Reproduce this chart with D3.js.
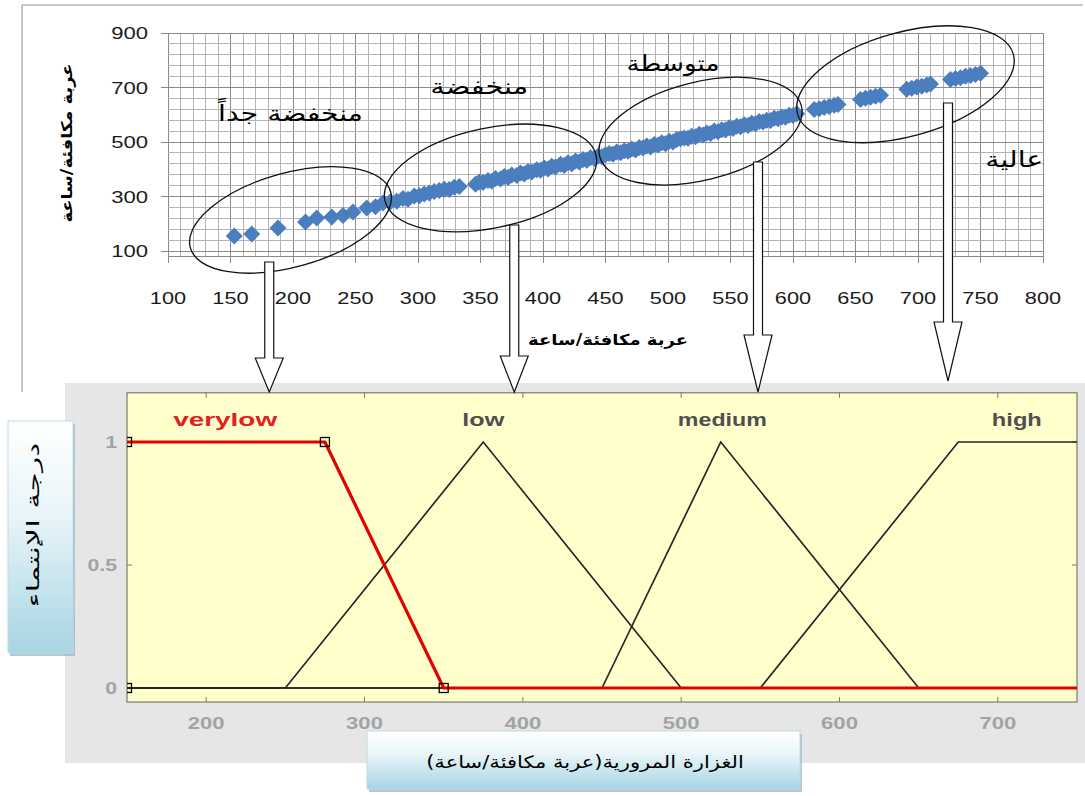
<!DOCTYPE html>
<html>
<head>
<meta charset="utf-8">
<script src="https://cdn.jsdelivr.net/npm/d3@7"></script>
<style>
  body { margin: 0; background: #fff; }
  svg { display: block; }
</style>
</head>
<body>
<svg id="chart" width="1085" height="796"></svg>
<script>
// ---- Observed flows (equivalent vehicles / hour) ----
const flowX = [
  153, 167, 188,
  210, 219, 231, 240, 248, 259, 266, 272, 278, 283, 288, 292, 297, 301, 305, 309, 313, 317, 321, 325, 329, 333,
  346, 349, 352, 356, 359, 362, 366, 369, 372, 375, 379, 382, 385, 388, 391, 395, 398, 401, 404, 407, 410, 414,
  417, 420, 423, 426, 429, 432, 435, 438, 441, 444, 447,
  450, 453, 456, 459, 462, 465, 468, 471, 474, 477, 480, 483, 486, 489, 492, 495, 498, 501, 504, 507, 510, 513,
  516, 519, 522, 525, 528, 531, 534, 537, 540, 543, 546, 549, 552, 555, 558, 561, 564, 567, 570, 573, 576, 579,
  582, 585, 588, 591, 594, 597, 600, 603,
  617, 621, 625, 629, 633, 636,
  654, 658, 662, 666, 670,
  691, 695, 699, 703, 707, 710,
  726, 730, 734, 738, 742, 746, 750
];
const flowY = [
  155, 162, 184,
  206, 221, 225, 230, 243, 258, 262, 276, 281, 283, 293, 290, 302, 303, 309, 313, 318, 322, 327, 326, 334, 337,
  345, 353, 351, 359, 356, 366, 364, 373, 370, 379, 377, 386, 383, 392, 390, 398, 396, 405, 401, 411, 408, 418,
  414, 424, 420, 430, 427, 436, 433, 442, 439, 448, 446,
  453, 458, 455, 463, 461, 468, 466, 474, 471, 480, 478, 485, 482, 491, 489, 497, 494, 503, 500, 509, 512, 515,
  514, 521, 519, 528, 526, 533, 531, 540, 538, 545, 544, 552, 550, 558, 556, 563, 561, 569, 567, 575, 573, 580,
  579, 587, 585, 592, 591, 598, 597, 604,
  619, 622, 627, 630, 635, 638,
  656, 661, 664, 668, 672,
  694, 697, 702, 705, 709, 713,
  729, 733, 736, 741, 744, 748, 752
];
const scatterXTicks = [100, 150, 200, 250, 300, 350, 400, 450, 500, 550, 600, 650, 700, 750, 800];
const scatterYTicks = [100, 300, 500, 700, 900];

// Region rings drawn around the point cloud (centre in data units)
const ringCx = [198, 358, 526, 690];
const ringCy = [214, 368, 540, 712];
const ringNames = ["منخفضة جداً", "منخفضة", "متوسطة", "عالية"];
const ringLabelX = [198, 349, 504, 777];
const ringLabelY = [577, 676, 760, 408];

// ---- Membership functions of the traffic flow variable ----
const verylowParams = [150, 150, 275, 350];   // trapezoid
const lowParams     = [250, 375, 375, 500];   // triangle
const mediumParams  = [450, 525, 525, 650];   // triangle
const highParams    = [550, 675, 750, 750];   // trapezoid
const mfNames  = ["verylow", "low", "medium", "high"];
const mfLabelX = [212, 375, 526, 712];
const mfXTicks = [200, 300, 400, 500, 600, 700];
const mfYTicks = [0, 0.5, 1];

const svg = d3.select("#chart");
const defs = svg.append("defs");

const ARABIC = "'DejaVu Sans', sans-serif";

// Places a text centred on (cx, cy) and stretches it horizontally to a given width
function fitText(parent, str, cx, cy, width, o = {}) {
  const t = parent.append("text")
    .attr("text-anchor", "middle")
    .attr("font-family", o.family || ARABIC)
    .attr("font-size", o.size || 16)
    .attr("font-weight", o.weight || "normal")
    .attr("fill", o.fill || "#000")
    .attr("direction", o.rtl ? "rtl" : "ltr")
    .text(str);
  const len = t.node().getComputedTextLength();
  const sx = len > 0 ? width / len : 1;
  t.attr("transform", `translate(${cx},${cy}) rotate(${o.rotate || 0}) scale(${sx},1)`);
  return t;
}

/* ================= Upper panel: scatter of flows ================= */
const xS = d3.scaleLinear().domain([100, 800]).range([168, 1043]);
const yS = d3.scaleLinear().domain([100, 900]).range([251, 33]);
const yFloor = 78;

// outer frame (left and top edges)
svg.append("path")
  .attr("d", "M22,392 V5 H1083")
  .attr("fill", "none").attr("stroke", "#8f8f8f").attr("stroke-width", 1);

const grid = svg.append("g");
grid.selectAll("line.v").data(d3.range(100, 801, 10)).join("line")
  .attr("x1", d => xS(d)).attr("x2", d => xS(d))
  .attr("y1", yS(900)).attr("y2", yS(yFloor))
  .attr("stroke", d => d % 50 === 0 ? "#8a8a8a" : "#b4b4b4")
  .attr("stroke-width", 1).attr("shape-rendering", "crispEdges");
grid.selectAll("line.h").data(d3.range(100, 901, 40).concat([yFloor])).join("line")
  .attr("x1", xS(100)).attr("x2", xS(800))
  .attr("y1", d => yS(d)).attr("y2", d => yS(d))
  .attr("stroke", d => (d - 100) % 200 === 0 || d === yFloor ? "#8a8a8a" : "#b4b4b4")
  .attr("stroke-width", 1).attr("shape-rendering", "crispEdges");

// axis ticks
grid.selectAll("line.xt").data(scatterXTicks).join("line")
  .attr("x1", d => xS(d)).attr("x2", d => xS(d))
  .attr("y1", yS(yFloor)).attr("y2", yS(yFloor) + 6)
  .attr("stroke", "#8a8a8a").attr("shape-rendering", "crispEdges");
grid.selectAll("line.yt").data(scatterYTicks).join("line")
  .attr("x1", xS(100) - 7).attr("x2", xS(100))
  .attr("y1", d => yS(d)).attr("y2", d => yS(d))
  .attr("stroke", "#8a8a8a").attr("shape-rendering", "crispEdges");

// tick labels
const tickFont = "'Liberation Sans', Arial, sans-serif";
svg.append("g").selectAll("text").data(scatterXTicks).join("text")
  .attr("transform", d => `translate(${xS(d)},${yS(yFloor) + 47}) scale(1.28,1)`)
  .attr("text-anchor", "middle").attr("font-family", tickFont).attr("font-size", 17)
  .attr("fill", "#1a1a1a").text(d => d);
svg.append("g").selectAll("text").data(scatterYTicks).join("text")
  .attr("transform", d => `translate(${xS(100) - 20},${yS(d) + 6}) scale(1.3,1)`)
  .attr("text-anchor", "end").attr("font-family", tickFont).attr("font-size", 17)
  .attr("fill", "#1a1a1a").text(d => d);

// points
const diamond = "M0,-8.5L8.5,0L0,8.5L-8.5,0Z";
svg.append("g").selectAll("path").data(flowX).join("path")
  .attr("d", diamond)
  .attr("transform", (d, i) => `translate(${xS(d)},${yS(flowY[i])})`)
  .attr("fill", "#4a7ebf");

// axis titles
fitText(svg, "عربة مكافئة/ساعة", 72, 143, 159, { rotate: -90, weight: "bold", size: 15, rtl: true });
fitText(svg, "عربة مكافئة/ساعة", 608, 345, 160, { weight: "bold", size: 15, rtl: true });

// region rings
const ringRx = [104, 108, 104, 112];
const ringRy = [47, 50, 49, 52];
const ringAngle = [-15.6, -12, -14, -15.5];
svg.append("g").selectAll("ellipse").data(ringCx).join("ellipse")
  .attr("transform", (d, i) => `translate(${xS(d)},${yS(ringCy[i])}) rotate(${ringAngle[i]})`)
  .attr("rx", (d, i) => ringRx[i]).attr("ry", (d, i) => ringRy[i])
  .attr("fill", "none").attr("stroke", "#111").attr("stroke-width", 1.3);

// region names
const ringLabelW = [145, 98, 93, 58];
ringNames.forEach((n, i) => {
  fitText(svg, n, xS(ringLabelX[i]), yS(ringLabelY[i]), ringLabelW[i], { size: 22, rtl: true });
});

/* ================= Lower panel: membership functions ================= */
svg.append("rect").attr("x", 65).attr("y", 383).attr("width", 1020).attr("height", 380).attr("fill", "#e6e6e6");

const xM = d3.scaleLinear().domain([150, 750]).range([127, 1077]);
const yM = d3.scaleLinear().domain([0, 1]).range([688, 442]);
const frameTop = 1.2, frameBottom = -0.057;

svg.append("rect")
  .attr("x", xM(150)).attr("y", yM(frameTop))
  .attr("width", xM(750) - xM(150)).attr("height", yM(frameBottom) - yM(frameTop))
  .attr("fill", "#ffffcc").attr("stroke", "#7b7b6c").attr("stroke-width", 1.2);

defs.append("clipPath").attr("id", "plotClip").append("rect")
  .attr("x", xM(150)).attr("y", yM(frameTop))
  .attr("width", xM(750) - xM(150)).attr("height", yM(frameBottom) - yM(frameTop));

// inward ticks
const tk = svg.append("g").attr("stroke", "#7b7b6c").attr("stroke-width", 1);
mfXTicks.forEach(v => {
  tk.append("line").attr("x1", xM(v)).attr("x2", xM(v)).attr("y1", yM(frameTop)).attr("y2", yM(frameTop) + 5);
  tk.append("line").attr("x1", xM(v)).attr("x2", xM(v)).attr("y1", yM(frameBottom)).attr("y2", yM(frameBottom) - 5);
});
mfYTicks.forEach(v => {
  tk.append("line").attr("x1", xM(150)).attr("x2", xM(150) + 5).attr("y1", yM(v)).attr("y2", yM(v));
  tk.append("line").attr("x1", xM(750)).attr("x2", xM(750) - 5).attr("y1", yM(v)).attr("y2", yM(v));
});

// tick labels
svg.append("g").selectAll("text").data(mfXTicks).join("text")
  .attr("transform", d => `translate(${xM(d)},${yM(frameBottom) + 27}) scale(1.3,1)`)
  .attr("text-anchor", "middle").attr("font-family", tickFont).attr("font-weight", "bold")
  .attr("font-size", 17).attr("fill", "#a3a3a3").text(d => d);
svg.append("g").selectAll("text").data(mfYTicks).join("text")
  .attr("transform", d => `translate(${xM(150) - 10},${yM(d) + 6}) scale(1.25,1)`)
  .attr("text-anchor", "end").attr("font-family", tickFont).attr("font-weight", "bold")
  .attr("font-size", 17).attr("fill", "#a3a3a3").text(d => d);

// membership evaluation
function trap(x, p) {
  const [a, b, c, d] = p;
  if (x < a || x > d) return 0;
  if (x >= b && x <= c) return 1;
  if (x < b) return (x - a) / (b - a);
  return (d - x) / (d - c);
}
function mfPoints(p) {
  const xs = Array.from(new Set([150, ...p, 750])).filter(v => v >= 150 && v <= 750).sort((a, b) => a - b);
  return xs.map(x => [x, trap(x, p)]);
}
const line = d3.line().x(d => xM(d[0])).y(d => yM(d[1]));

const curves = svg.append("g").attr("clip-path", "url(#plotClip)");
[lowParams, mediumParams, highParams].forEach(p => {
  curves.append("path").attr("d", line(mfPoints(p)))
    .attr("fill", "none").attr("stroke", "#262626").attr("stroke-width", 1.7);
});
curves.append("path").attr("d", line(mfPoints(verylowParams)))
  .attr("fill", "none").attr("stroke", "#e30000").attr("stroke-width", 3.2).attr("stroke-linejoin", "round");

// parameter handles on the selected function
const handles = [[verylowParams[0], 0], [verylowParams[1], 1], [verylowParams[2], 1], [verylowParams[3], 0]];
curves.selectAll("rect.h").data(handles).join("rect")
  .attr("x", d => xM(d[0]) - 4.5).attr("y", d => yM(d[1]) - 4.5)
  .attr("width", 9).attr("height", 9)
  .attr("fill", "none").attr("stroke", "#000").attr("stroke-width", 1.3);

// function names
const mfLabelW = [104, 42, 89, 50];
mfNames.forEach((n, i) => {
  fitText(svg, n, xM(mfLabelX[i]), 426, mfLabelW[i], {
    family: tickFont, weight: "bold", size: 18,
    fill: i === 0 ? "#e32020" : "#505050"
  });
});

/* ================= Arrows linking rings to functions ================= */
const arrowX = [181, 377, 572, 724];
const arrowTop = [262, 225, 162, 103];
const arrowNeck = [358, 356, 335, 322];
const arrowTip = [392, 392, 392, 381];
const arrows = svg.append("g");
arrowX.forEach((v, i) => {
  const cx = xS(v), sw = 4.5, hw = 14;
  const d = `M${cx - sw},${arrowTop[i]} H${cx + sw} V${arrowNeck[i]} H${cx + hw} L${cx},${arrowTip[i]} L${cx - hw},${arrowNeck[i]} H${cx - sw} Z`;
  arrows.append("path").attr("d", d).attr("fill", "#fff").attr("stroke", "#111").attr("stroke-width", 1.2);
});

/* ================= Caption boxes ================= */
const grad = defs.append("linearGradient").attr("id", "capFill").attr("x1", 0).attr("y1", 0).attr("x2", 0).attr("y2", 1);
grad.append("stop").attr("offset", "0%").attr("stop-color", "#ffffff");
grad.append("stop").attr("offset", "40%").attr("stop-color", "#e9f5f9");
grad.append("stop").attr("offset", "100%").attr("stop-color", "#a6d5e3");

function captionBox(x, y, w, h) {
  svg.append("rect").attr("x", x + 2).attr("y", y + 3).attr("width", w).attr("height", h)
    .attr("fill", "#8fb4c4").attr("opacity", 0.7);
  svg.append("rect").attr("x", x).attr("y", y).attr("width", w).attr("height", h)
    .attr("fill", "url(#capFill)").attr("stroke", "#c3d9e2").attr("stroke-width", 1);
}
captionBox(8, 421, 65, 232);
fitText(svg, "درجة الإنتماء", 39, 525, 165, { rotate: -90, size: 17, rtl: true });

captionBox(367, 731, 433, 58);
fitText(svg, "الغزارة المرورية(عربة مكافئة/ساعة)", 585, 768, 318, { size: 17, rtl: true });
</script>
</body>
</html>
